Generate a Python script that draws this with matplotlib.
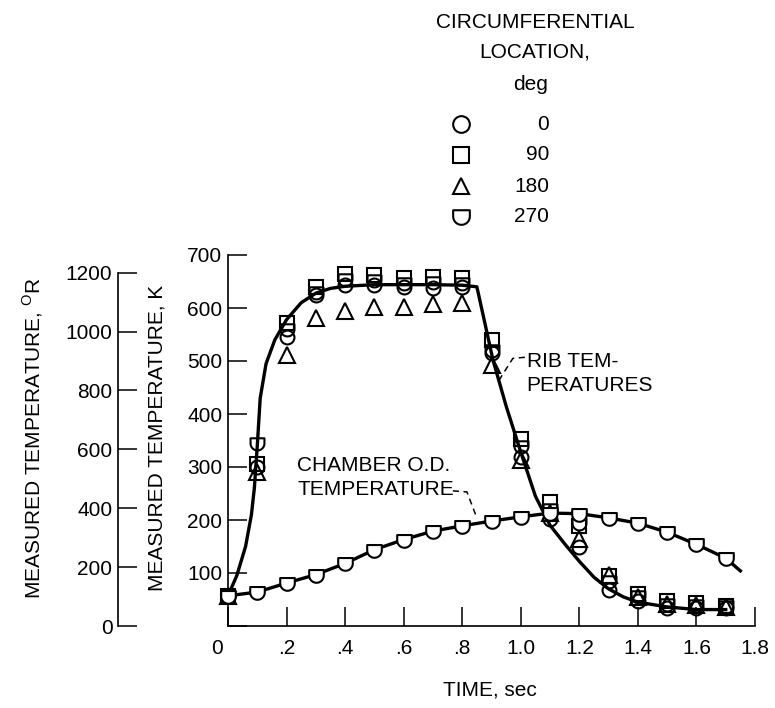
import matplotlib
matplotlib.use("Agg")
import matplotlib.pyplot as plt
import numpy as np
from matplotlib.path import Path
from matplotlib.transforms import ScaledTranslation

plt.rcParams['font.family'] = ['Liberation Sans', 'DejaVu Sans']
plt.rcParams['mathtext.fontset'] = 'custom'
plt.rcParams['mathtext.rm'] = 'Liberation Sans'

# measured rib temperatures, K
times = [0.0, 0.1, 0.2, 0.3, 0.4, 0.5, 0.6, 0.7, 0.8, 0.9, 1.0, 1.1, 1.2, 1.3, 1.4, 1.5, 1.6, 1.7]
rib_0 = [57, 300, 545, 624, 643, 643, 639, 637, 639, 516, 318, 202, 150, 68, 47, 34, 34, 34]
rib_90 = [57, 306, 572, 640, 664, 662, 656, 659, 656, 539, 352, 234, 188, 95, 60, 47, 44, 38]
rib_180 = [57, 290, 511, 581, 594, 601, 602, 607, 609, 492, 314, 214, 165, 96, 55, 42, 40, 35]
rib_270 = [57, 345, 560, 630, 655, 653, 647, 650, 647, 520, 340, 221, 195, 85, 57, 41, 40, 37]

# chamber outer diameter temperature, K
chamber = [57, 64, 81, 97, 118, 144, 163, 179, 189, 198, 206, 213, 212, 204, 194, 177, 154, 128]
chamber_end_t = 1.75
chamber_end_k = 104

# faired curve through rib data
rib_curve_t = [0.0, 0.03, 0.06, 0.08, 0.09, 0.10, 0.11, 0.13, 0.16, 0.20, 0.25, 0.30, 0.35, 0.40,
               0.50, 0.60, 0.70, 0.80, 0.85, 0.87, 0.905, 0.95, 1.00, 1.05, 1.10, 1.15, 1.20,
               1.25, 1.30, 1.35, 1.40, 1.50, 1.60, 1.70]
rib_curve_k = [57, 95, 150, 210, 260, 340, 430, 495, 540, 578, 610, 628, 637, 641,
               644, 644, 644, 643, 640, 590, 502, 415, 328, 245, 190, 155, 122,
               92, 70, 55, 45, 36, 31, 31]

legend_labels = ['0', '90', '180', '270']
xtick_labels = ['0', '.2', '.4', '.6', '.8', '1.0', '1.2', '1.4', '1.6', '1.8']

# flat-topped marker with round bottom
ang = np.linspace(0, -np.pi, 20)
verts = [(-1, 0.75), (1, 0.75), (1, 0)] + list(zip(np.cos(ang), np.sin(ang))) + [(-1, 0.75)]
d_marker = Path(verts, closed=True)

markers = ['o', 's', '^', d_marker]
series = [rib_0, rib_90, rib_180, rib_270]

fs = 15
fig = plt.figure(figsize=(7.75, 7.08), dpi=100)
ax = fig.add_axes([228/775, 1-626/708, 527/775, 371/708])

ax.plot(rib_curve_t, rib_curve_k, color='black', lw=2.4, zorder=2)
ax.plot(times + [chamber_end_t], chamber + [chamber_end_k], color='black', lw=2.4, zorder=2)
ax.plot(times, chamber, linestyle='none', marker=d_marker, ms=10.5, mfc='white',
        mec='black', mew=1.5, zorder=4, clip_on=False)
for vals, m in zip(series, markers):
    ax.plot(times, vals, linestyle='none', marker=m, ms=10 if m != '^' else 11,
            mfc='none', mec='black', mew=1.5, zorder=3, clip_on=False)

ax.set_xlim(0, 1.8)
ax.set_ylim(0, 700)
ax.set_xticks(np.arange(0, 1.81, 0.2))
ax.set_xticklabels(xtick_labels)
ax.set_yticks(np.arange(0, 701, 100))
ax.set_yticklabels([''] + [str(v) for v in range(100, 701, 100)])
for s in ['top', 'right']:
    ax.spines[s].set_visible(False)
for s in ['left', 'bottom']:
    ax.spines[s].set_linewidth(1.2)
ax.tick_params(direction='in', length=14, width=1.1, labelsize=fs, color='black')
ax.tick_params(axis='x', pad=9)
ax.tick_params(axis='y', pad=4)
lab0 = ax.get_xticklabels()[0]
lab0.set_transform(lab0.get_transform() + ScaledTranslation(-0.11, 0, fig.dpi_scale_trans))

# Rankine scale
ax2 = ax.twinx()
ax2.set_ylim(0, 700 * 1.8)
ax2.spines['right'].set_visible(False)
ax2.spines['top'].set_visible(False)
ax2.spines['bottom'].set_visible(False)
ax2.spines['left'].set_visible(True)
ax2.spines['left'].set_position(('axes', (118 - 228) / 527))
ax2.spines['left'].set_bounds(0, 1200)
ax2.spines['left'].set_linewidth(1.2)
ax2.yaxis.set_ticks_position('left')
ax2.yaxis.set_label_position('left')
ax2.set_yticks(np.arange(0, 1201, 200))
ax2.tick_params(direction='in', length=14, width=1.1, labelsize=fs, pad=4)

fig.text(157/775, 1-438/708, 'MEASURED TEMPERATURE, K', rotation=90,
         ha='center', va='center', fontsize=fs)
fig.text(33/775, 1-438/708, r'MEASURED TEMPERATURE, $^{\mathrm{O}}$R', rotation=90,
         ha='center', va='center', fontsize=fs)
fig.text(490/775, 1-690/708, 'TIME, sec', ha='center', va='center', fontsize=fs)

# curve labels with dashed leaders
ax.text(1.02, 476, 'RIB TEM-\nPERATURES', ha='left', va='center', fontsize=fs, linespacing=1.3)
ax.plot([1.014, 0.973, 0.919], [507, 505, 458], color='black', lw=1.1, ls=(0, (4, 3)))
ax.text(0.236, 280, 'CHAMBER O.D.\nTEMPERATURE', ha='left', va='center', fontsize=fs, linespacing=1.3)
ax.plot([0.768, 0.816, 0.850], [255, 253, 204], color='black', lw=1.1, ls=(0, (4, 3)))

# legend
lax = fig.add_axes([0, 0, 1, 1], facecolor='none')
lax.set_xlim(0, 775)
lax.set_ylim(708, 0)
lax.axis('off')
lax.text(535, 22, 'CIRCUMFERENTIAL', ha='center', va='center', fontsize=fs)
lax.text(535, 52, 'LOCATION,', ha='center', va='center', fontsize=fs)
lax.text(531, 84, 'deg', ha='center', va='center', fontsize=fs)
rows = [124, 155, 186, 216]
for lab, m, y in zip(legend_labels, markers, rows):
    lax.plot([461], [y], linestyle='none', marker=m, ms=12, mfc='none', mec='black', mew=1.5)
    lax.text(549, y, lab, ha='right', va='center', fontsize=fs)

fig.savefig('out.png', dpi=100)
